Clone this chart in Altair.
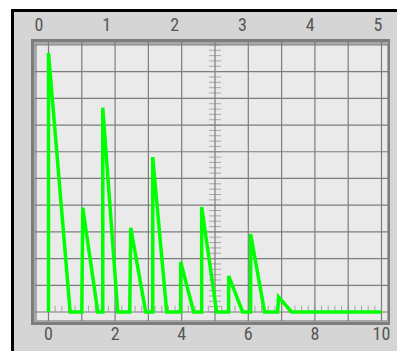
import altair as alt
import pandas as pd

# Oscilloscope trace (x in bottom-scale units 0..10, y in screen divisions 0..10)
trace_x = [0, 0, 0.65, 1.0, 1.03, 1.48, 1.63, 1.63, 2.08, 2.44, 2.47, 2.92, 3.13, 3.13,
           3.55, 3.97, 3.97, 4.36, 4.6, 4.6, 5.05, 5.41, 5.41, 5.83, 6.07, 6.07, 6.49,
           6.88, 6.91, 7.3, 10.0]
trace_y = [0, 9.7, 0, 0, 3.9, 0, 0, 7.65, 0, 0, 3.15, 0, 0, 5.8, 0, 0, 1.87, 0, 0,
           3.93, 0, 0, 1.35, 0, 0, 2.92, 0, 0, 0.56, 0, 0]

grid_x = list(range(0, 11))
grid_y = list(range(0, 11))
minor_steps = [i / 5 for i in range(0, 51)]

bottom_values = [0, 2, 4, 6, 8, 10]
bottom_labels = ["0", "2", "4", "6", "8", "10"]
top_values = [0, 1, 2, 3, 4, 5]
top_labels = ["0", "1", "2", "3", "4", "5"]

W, H = 353, 279
XDOM = [-0.405, 10.195]
YDOM = [-0.337, 10.11]
TOPDOM = [-0.059, 5.147]

xs = alt.Scale(domain=XDOM, nice=False, zero=False)
ys = alt.Scale(domain=YDOM, nice=False, zero=False)

one = pd.DataFrame({"a": [0]})

bezel = alt.Chart(one).mark_rect(fill="#d5d5d5", stroke="#000000", strokeWidth=3).encode(
    x=alt.value(-22.5), x2=alt.value(390), y=alt.value(-31.5), y2=alt.value(330))
shadow = alt.Chart(one).mark_rect(fill="#7d7d7d").encode(
    x=alt.value(-4), x2=alt.value(W + 2), y=alt.value(-3), y2=alt.value(H + 4))
shadow2 = alt.Chart(one).mark_rect(fill="#a8a8a8").encode(
    x=alt.value(-1), x2=alt.value(W), y=alt.value(0), y2=alt.value(H + 1))
screen = alt.Chart(one).mark_rect(fill="#eaeaea").encode(
    x=alt.value(2), x2=alt.value(W - 1), y=alt.value(2), y2=alt.value(H - 1))

vgrid = alt.Chart(pd.DataFrame({"g": grid_x})).mark_rule(color="#7c7c7c", strokeWidth=1.2).encode(
    x=alt.X("g:Q", scale=xs, axis=None))
hgrid = alt.Chart(pd.DataFrame({"g": grid_y})).mark_rule(color="#7c7c7c", strokeWidth=1.2).encode(
    y=alt.Y("g:Q", scale=ys, axis=None))

center_ticks = alt.Chart(pd.DataFrame({"t": minor_steps, "c": [5] * len(minor_steps)})).mark_tick(
    orient="horizontal", size=12, thickness=1, color="#8a8a8a").encode(
    x=alt.X("c:Q", scale=xs, axis=None), y=alt.Y("t:Q", scale=ys, axis=None))
base_ticks = alt.Chart(pd.DataFrame({"t": minor_steps, "c": [0.12] * len(minor_steps)})).mark_tick(
    orient="vertical", size=6, thickness=1, color="#8a8a8a").encode(
    x=alt.X("t:Q", scale=xs, axis=None), y=alt.Y("c:Q", scale=ys, axis=None))

trace_df = pd.DataFrame({"x": trace_x, "y": trace_y, "i": list(range(len(trace_x)))})
trace = alt.Chart(trace_df).mark_line(color="#00ff00", strokeWidth=3.5, strokeJoin="miter").encode(
    x=alt.X("x:Q", scale=xs, axis=None),
    y=alt.Y("y:Q", scale=ys, axis=None),
    order=alt.Order("i:Q"))

FONT = "Liberation Sans Narrow, Roboto Condensed, Roboto, sans-serif"
bottom_txt = alt.Chart(pd.DataFrame({"v": bottom_values, "l": bottom_labels})).mark_text(
    font=FONT, fontSize=18, color="#555555", baseline="middle", align="center").encode(
    x=alt.X("v:Q", scale=xs, axis=None), y=alt.value(H + 14), text="l:N")

main = alt.layer(bezel, shadow, shadow2, screen, vgrid, hgrid, center_ticks, base_ticks,
                 trace, bottom_txt)

top_txt = alt.Chart(pd.DataFrame({"v": top_values, "l": top_labels})).mark_text(
    font=FONT, fontSize=18, color="#555555", baseline="middle", align="center").encode(
    x=alt.X("v:Q", scale=alt.Scale(domain=TOPDOM, nice=False, zero=False), axis=None),
    y=alt.value(-16), text="l:N")

chart = alt.layer(main, top_txt).resolve_scale(x="independent").properties(
    width=W, height=H,
    autosize=alt.AutoSizeParams(type="none"),
    padding={"left": 27, "top": 34, "right": 9, "bottom": 30},
    background="#ffffff",
).configure_view(stroke=None)

chart.save("out.html", embed_options={"renderer": "svg", "actions": False})
